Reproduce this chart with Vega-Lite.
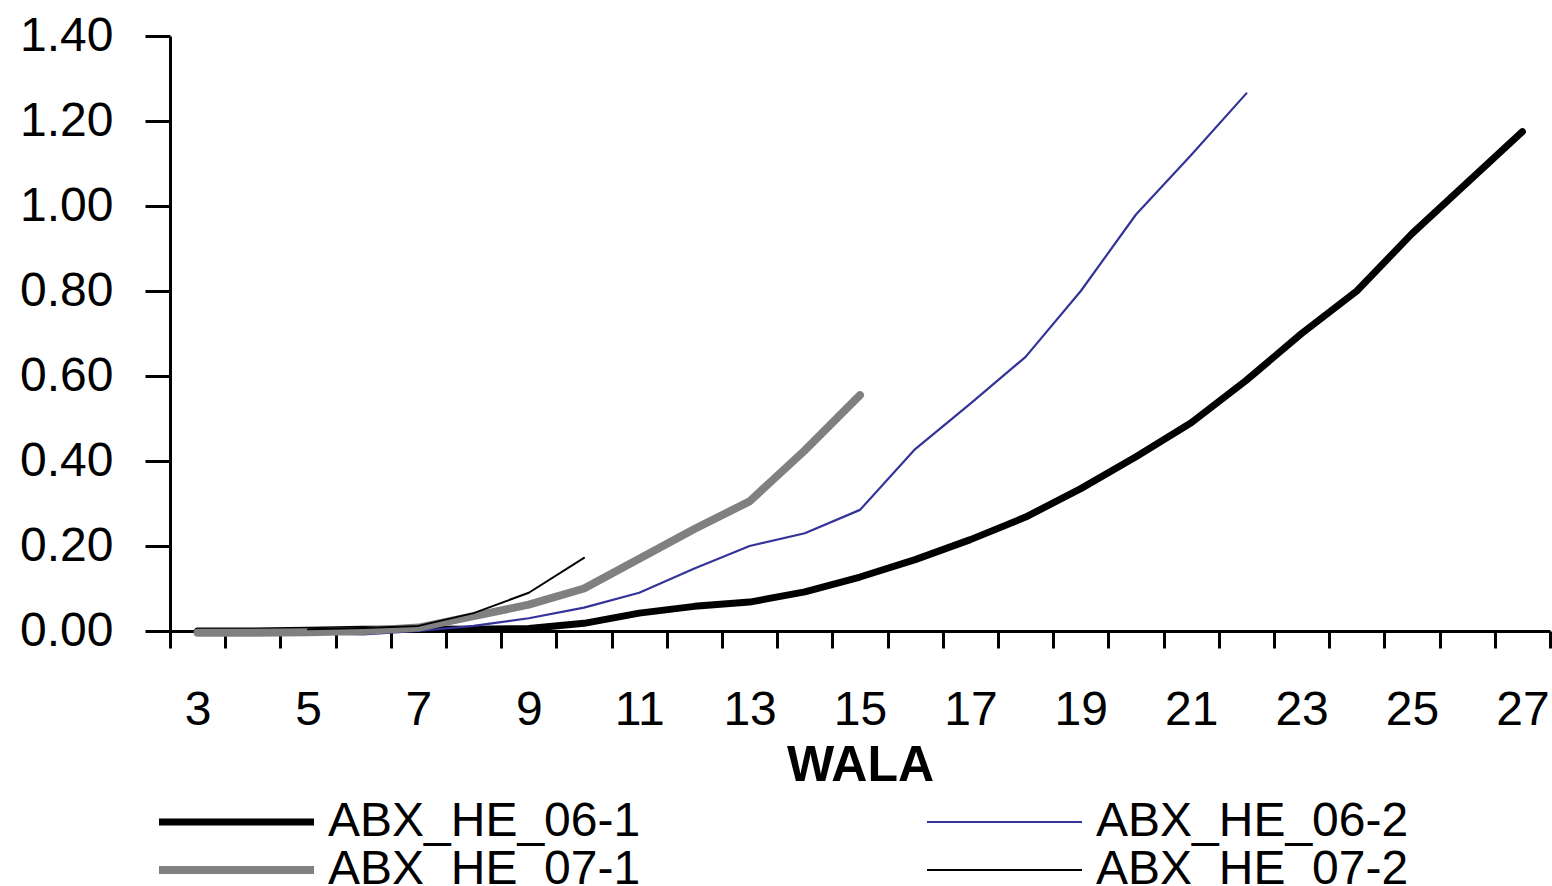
{
  "$schema": "https://vega.github.io/schema/vega-lite/v6.json",
  "width": 1380,
  "height": 595,
  "autosize": {"type": "none"},
  "padding": {"left": 170, "top": 36, "right": 2, "bottom": 255},
  "background": "white",
  "config": {"view": {"stroke": null}, "font": "Liberation Sans"},
  "data": {"values": [
    {"series": "ABX_HE_06-1", "wala": 3, "value": 0.0},
    {"series": "ABX_HE_06-1", "wala": 4, "value": 0.0},
    {"series": "ABX_HE_06-1", "wala": 5, "value": 0.002},
    {"series": "ABX_HE_06-1", "wala": 6, "value": 0.004},
    {"series": "ABX_HE_06-1", "wala": 7, "value": 0.005},
    {"series": "ABX_HE_06-1", "wala": 8, "value": 0.004},
    {"series": "ABX_HE_06-1", "wala": 9, "value": 0.006},
    {"series": "ABX_HE_06-1", "wala": 10, "value": 0.018},
    {"series": "ABX_HE_06-1", "wala": 11, "value": 0.042},
    {"series": "ABX_HE_06-1", "wala": 12, "value": 0.058},
    {"series": "ABX_HE_06-1", "wala": 13, "value": 0.068},
    {"series": "ABX_HE_06-1", "wala": 14, "value": 0.092},
    {"series": "ABX_HE_06-1", "wala": 15, "value": 0.127},
    {"series": "ABX_HE_06-1", "wala": 16, "value": 0.168},
    {"series": "ABX_HE_06-1", "wala": 17, "value": 0.215},
    {"series": "ABX_HE_06-1", "wala": 18, "value": 0.268},
    {"series": "ABX_HE_06-1", "wala": 19, "value": 0.335},
    {"series": "ABX_HE_06-1", "wala": 20, "value": 0.41},
    {"series": "ABX_HE_06-1", "wala": 21, "value": 0.49},
    {"series": "ABX_HE_06-1", "wala": 22, "value": 0.59},
    {"series": "ABX_HE_06-1", "wala": 23, "value": 0.7},
    {"series": "ABX_HE_06-1", "wala": 24, "value": 0.8},
    {"series": "ABX_HE_06-1", "wala": 25, "value": 0.935},
    {"series": "ABX_HE_06-1", "wala": 26, "value": 1.055},
    {"series": "ABX_HE_06-1", "wala": 27, "value": 1.175},
    {"series": "ABX_HE_06-2", "wala": 3, "value": 0.0},
    {"series": "ABX_HE_06-2", "wala": 4, "value": 0.0},
    {"series": "ABX_HE_06-2", "wala": 5, "value": -0.005},
    {"series": "ABX_HE_06-2", "wala": 6, "value": -0.008},
    {"series": "ABX_HE_06-2", "wala": 7, "value": 0.0},
    {"series": "ABX_HE_06-2", "wala": 8, "value": 0.012},
    {"series": "ABX_HE_06-2", "wala": 9, "value": 0.03},
    {"series": "ABX_HE_06-2", "wala": 10, "value": 0.055},
    {"series": "ABX_HE_06-2", "wala": 11, "value": 0.09},
    {"series": "ABX_HE_06-2", "wala": 12, "value": 0.147},
    {"series": "ABX_HE_06-2", "wala": 13, "value": 0.2},
    {"series": "ABX_HE_06-2", "wala": 14, "value": 0.23},
    {"series": "ABX_HE_06-2", "wala": 15, "value": 0.285},
    {"series": "ABX_HE_06-2", "wala": 16, "value": 0.428},
    {"series": "ABX_HE_06-2", "wala": 17, "value": 0.535},
    {"series": "ABX_HE_06-2", "wala": 18, "value": 0.645},
    {"series": "ABX_HE_06-2", "wala": 19, "value": 0.8},
    {"series": "ABX_HE_06-2", "wala": 20, "value": 0.98},
    {"series": "ABX_HE_06-2", "wala": 21, "value": 1.12},
    {"series": "ABX_HE_06-2", "wala": 22, "value": 1.265},
    {"series": "ABX_HE_07-1", "wala": 3, "value": -0.004},
    {"series": "ABX_HE_07-1", "wala": 4, "value": -0.004},
    {"series": "ABX_HE_07-1", "wala": 5, "value": -0.003},
    {"series": "ABX_HE_07-1", "wala": 6, "value": 0.0},
    {"series": "ABX_HE_07-1", "wala": 7, "value": 0.008},
    {"series": "ABX_HE_07-1", "wala": 8, "value": 0.035},
    {"series": "ABX_HE_07-1", "wala": 9, "value": 0.062},
    {"series": "ABX_HE_07-1", "wala": 10, "value": 0.1},
    {"series": "ABX_HE_07-1", "wala": 11, "value": 0.17},
    {"series": "ABX_HE_07-1", "wala": 12, "value": 0.24},
    {"series": "ABX_HE_07-1", "wala": 13, "value": 0.305},
    {"series": "ABX_HE_07-1", "wala": 14, "value": 0.425},
    {"series": "ABX_HE_07-1", "wala": 15, "value": 0.555},
    {"series": "ABX_HE_07-2", "wala": 5, "value": 0.004},
    {"series": "ABX_HE_07-2", "wala": 6, "value": 0.007},
    {"series": "ABX_HE_07-2", "wala": 7, "value": 0.012},
    {"series": "ABX_HE_07-2", "wala": 8, "value": 0.042},
    {"series": "ABX_HE_07-2", "wala": 9, "value": 0.09},
    {"series": "ABX_HE_07-2", "wala": 10, "value": 0.172}
  ]},
  "mark": {"type": "line", "strokeCap": "round", "strokeJoin": "round"},
  "encoding": {
    "x": {
      "field": "wala",
      "type": "ordinal",
      "scale": {"type": "band", "paddingInner": 0, "paddingOuter": 0},
      "axis": {
        "title": "WALA",
        "titleFont": "Liberation Sans",
        "titleFontSize": 50,
        "titleFontWeight": "bold",
        "titleColor": "black",
        "titlePadding": 6,
        "labelFont": "Liberation Sans",
        "labelFontSize": 48,
        "labelColor": "black",
        "labelAngle": 0,
        "labelPadding": 38,
        "labelOverlap": false,
        "labelFlush": false,
        "labelExpr": "datum.value % 2 == 1 ? datum.label : ''",
        "tickBand": "extent",
        "tickSize": 17,
        "tickWidth": 3,
        "tickColor": "black",
        "domainColor": "black",
        "domainWidth": 3,
        "grid": false
      }
    },
    "y": {
      "field": "value",
      "type": "quantitative",
      "scale": {"domain": [0, 1.4], "nice": false, "zero": false},
      "axis": {
        "title": null,
        "values": [0, 0.2, 0.4, 0.6, 0.8, 1.0, 1.2, 1.4],
        "format": ".2f",
        "labelFont": "Liberation Sans",
        "labelFontSize": 48,
        "labelColor": "black",
        "labelPadding": 32,
        "labelFlush": false,
        "labelOverlap": false,
        "tickSize": 25,
        "tickWidth": 3,
        "tickColor": "black",
        "domainColor": "black",
        "domainWidth": 3,
        "grid": false
      }
    },
    "color": {
      "field": "series",
      "type": "nominal",
      "scale": {
        "domain": ["ABX_HE_06-1", "ABX_HE_06-2", "ABX_HE_07-1", "ABX_HE_07-2"],
        "range": ["#000000", "#333399", "#808080", "#000000"]
      },
      "legend": {
        "title": null,
        "orient": "none",
        "direction": "horizontal",
        "legendX": -15,
        "legendY": 764,
        "columns": 2,
        "columnPadding": 282,
        "rowPadding": 0,
        "padding": 0,
        "symbolType": "stroke",
        "symbolSize": 24025,
        "clipHeight": 44,
        "labelFont": "Liberation Sans",
        "labelFontSize": 48,
        "labelColor": "black",
        "labelOffset": 10,
        "labelLimit": 0
      }
    },
    "strokeWidth": {
      "field": "series",
      "type": "nominal",
      "scale": {
        "type": "ordinal",
        "domain": ["ABX_HE_06-1", "ABX_HE_06-2", "ABX_HE_07-1", "ABX_HE_07-2"],
        "range": [7, 2.2, 8, 2]
      },
      "legend": null
    }
  }
}
